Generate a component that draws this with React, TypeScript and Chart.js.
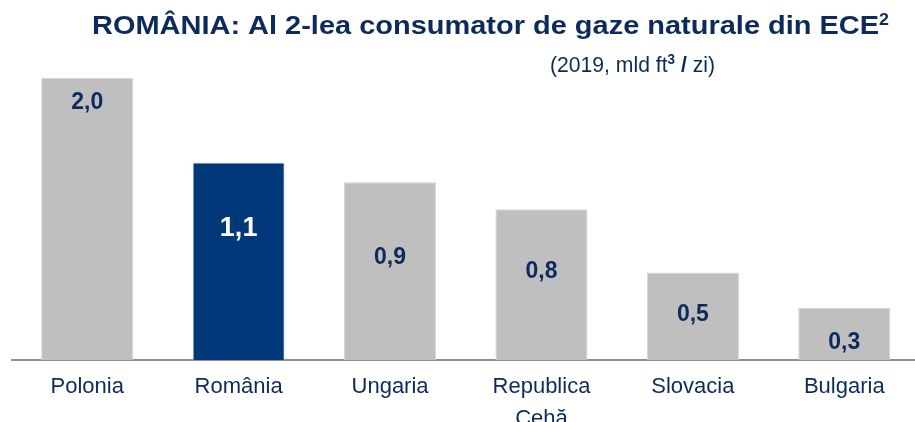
import React, { useEffect, useRef } from "react";
import { Chart, registerables } from "chart.js";

Chart.register(...registerables);

// ---- data ----
const categories: (string | string[])[] = ["Polonia", "România", "Ungaria", ["Republica", "Cehă"], "Slovacia", "Bulgaria"];
// bar heights as drawn in the picture (0..2 scale)
const barHeights = [2.0, 1.4, 1.26, 1.07, 0.62, 0.37];
// values printed on the bars
const printedValues = [2.0, 1.1, 0.9, 0.8, 0.5, 0.3];
const highlightedCategory = "România";
const titleRuns = [
  { text: "ROMÂNIA: Al 2-lea consumator de gaze naturale din ECE", bold: true, sup: false },
  { text: "2", bold: true, sup: true },
];
const subtitleRuns = [
  { text: "(2019, mld ft", bold: false, sup: false },
  { text: "3", bold: true, sup: true },
  { text: " ", bold: false, sup: false },
  { text: "/", bold: true, sup: false },
  { text: " zi)", bold: false, sup: false },
];

const NAVY = "#00387a";
const GRAY = "#bfbfbf";
const TEXT = "#0c2b5c";
const FONT = '"Liberation Sans", Arial, sans-serif';

const fmt = (v: number) => v.toFixed(1).replace(".", ",");

function drawRuns(
  ctx: CanvasRenderingContext2D,
  runs: { text: string; bold: boolean; sup: boolean }[],
  size: number,
  x0: number,
  y0: number,
  targetWidth: number
) {
  const fontOf = (r: { bold: boolean; sup: boolean }) =>
    `${r.bold ? "bold " : ""}${r.sup ? Math.round(size * 0.62) : size}px ${FONT}`;
  const widths = runs.map((r) => {
    ctx.font = fontOf(r);
    return ctx.measureText(r.text).width;
  });
  const total = widths.reduce((a, b) => a + b, 0);
  ctx.save();
  ctx.translate(x0, y0);
  ctx.scale(targetWidth / total, 1);
  let x = 0;
  runs.forEach((r, i) => {
    ctx.font = fontOf(r);
    ctx.fillText(r.text, x, r.sup ? -size * 0.36 : 0);
    x += widths[i];
  });
  ctx.restore();
}

const textPlugin = {
  id: "customTexts",
  afterDatasetsDraw(chart: any) {
    const ctx = chart.ctx as CanvasRenderingContext2D;
    const meta = chart.getDatasetMeta(0);
    const yScale = chart.scales.y;
    ctx.save();
    ctx.textAlign = "center";
    ctx.textBaseline = "alphabetic";
    printedValues.forEach((v, i) => {
      const bar = meta.data[i];
      const hi = categories[i] === highlightedCategory;
      ctx.font = `bold ${hi ? 27 : 23}px ${FONT}`;
      ctx.fillStyle = hi ? "#ffffff" : TEXT;
      ctx.fillText(fmt(v), bar.x, yScale.getPixelForValue(v) + 31);
    });

    ctx.textAlign = "left";
    ctx.fillStyle = TEXT;
    drawRuns(ctx, titleRuns, 26, 92, 34, 797);
    drawRuns(ctx, subtitleRuns, 22, 550, 72, 165);
    ctx.restore();
  },
};

export default function App() {
  const ref = useRef<HTMLCanvasElement | null>(null);
  useEffect(() => {
    if (!ref.current) return;
    const chart = new Chart(ref.current, {
      type: "bar",
      data: {
        labels: categories as any,
        datasets: [
          {
            data: barHeights,
            backgroundColor: categories.map((c) => (c === highlightedCategory ? NAVY : GRAY)),
            borderColor: "#d6d6d6",
            borderWidth: 1,
            barPercentage: 0.6085,
            categoryPercentage: 1,
          },
        ],
      },
      options: {
        responsive: false,
        animation: false,
        layout: { padding: { left: 11.5, top: 78, right: 0, bottom: 0 } },
        plugins: {
          legend: { display: false },
          tooltip: { enabled: false },
          title: { display: false },
        },
        scales: {
          y: { display: false, min: 0, max: 2 },
          x: {
            grid: { display: false, drawTicks: false },
            border: { display: true, color: "#8f8f8f", width: 2 },
            ticks: {
              color: TEXT,
              font: { family: FONT, size: 22, lineHeight: 1.45 },
              padding: 11,
              maxRotation: 0,
              autoSkip: false,
            },
            afterFit: (scale: any) => {
              scale.height = 62;
            },
          },
        },
      },
      plugins: [textPlugin],
    });
    return () => chart.destroy();
  }, []);
  return (
    <div
      style={{
        position: "absolute",
        left: 0,
        top: 0,
        width: 915,
        height: 422,
        overflow: "hidden",
        background: "#ffffff",
      }}
    >
      <canvas ref={ref} width={920} height={422} style={{ display: "block" }} />
    </div>
  );
}
